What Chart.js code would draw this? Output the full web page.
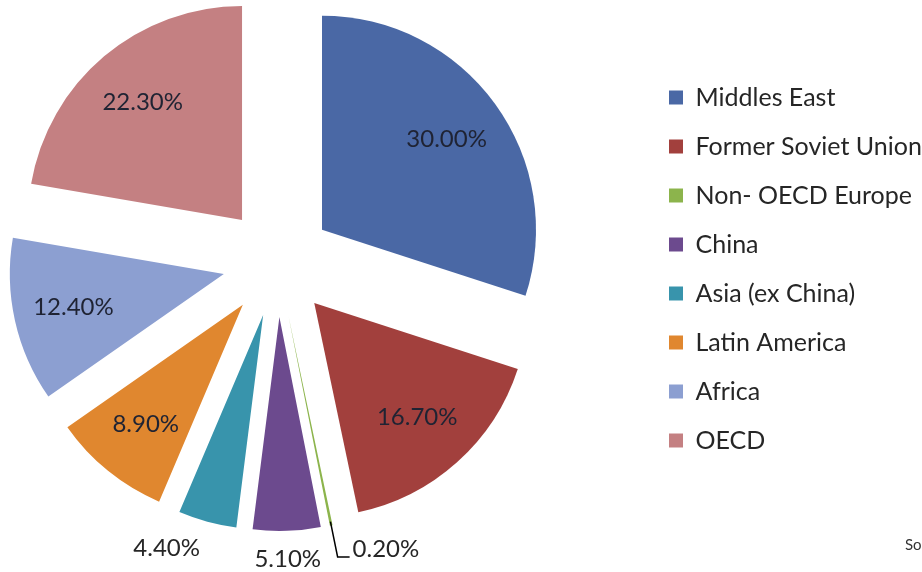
<!DOCTYPE html>
<html>
<head>
<meta charset="utf-8">
<script src="https://cdn.jsdelivr.net/npm/chart.js@4"></script>
<style>
  html, body { margin: 0; padding: 0; background: #fff; }
  #wrap { width: 922px; height: 572px; }
</style>
</head>
<body>
<div id="wrap"><canvas id="myChart" width="922" height="572"></canvas></div>
<script>
const regions = [
  "Middles East",
  "Former Soviet Union",
  "Non- OECD Europe",
  "China",
  "Asia (ex China)",
  "Latin America",
  "Africa",
  "OECD",
];
const shares = [30.0, 16.7, 0.2, 5.1, 4.4, 8.9, 12.4, 22.3];
const colours = [
  "#4a68a5", // Middles East
  "#a2403d", // Former Soviet Union
  "#8cb44c", // Non- OECD Europe
  "#6c4a8e", // China
  "#3894ac", // Asia (ex China)
  "#e0872f", // Latin America
  "#8c9fd1", // Africa
  "#c48082", // OECD
];

const EXPLODE = 55; // distance each slice is pulled out

// pie sits left of the middle of the free space, legend a bit lower
const layoutPlugin = {
  id: "layoutTweak",
  beforeInit(chart) {
    const fit = chart.legend.fit;
    chart.legend.fit = function () {
      fit.bind(chart.legend)();
      this.width = 277;
    };
  },
  afterLayout(chart) {
    chart.chartArea.left -= 90;
    chart.legend.top += 7;
    chart.legend.bottom += 7;
  },
};

// draw every arc pulled out along its mid angle
const explodePlugin = {
  id: "explode",
  beforeDatasetDraw(chart, args) {
    const ctx = chart.ctx;
    args.meta.data.forEach((arc) => {
      const mid = (arc.startAngle + arc.endAngle) / 2;
      ctx.save();
      ctx.translate(Math.cos(mid) * EXPLODE, Math.sin(mid) * EXPLODE);
      arc.draw(ctx);
      ctx.restore();
    });
    return false;
  },
};

// percentage labels: inside for big slices, outside for small, leader for tiny
const labelPlugin = {
  id: "pctLabels",
  afterDatasetsDraw(chart) {
    const ctx = chart.ctx;
    const meta = chart.getDatasetMeta(0);
    ctx.save();
    ctx.font = "24px Lato";
    meta.data.forEach((arc, i) => {
      const v = shares[i];
      const text = v.toFixed(2) + "%";
      const mid = (arc.startAngle + arc.endAngle) / 2;
      const cx = Math.cos(mid);
      const cy = Math.sin(mid);
      const ax = arc.x + cx * EXPLODE;
      const ay = arc.y + cy * EXPLODE;
      const r = arc.outerRadius;
      ctx.textBaseline = "middle";
      if (v >= 6) {
        ctx.fillStyle = "#1f2333";
        ctx.textAlign = "center";
        ctx.fillText(text, ax + cx * r * 0.72, ay + cy * r * 0.72);
      } else if (v >= 1) {
        ctx.fillStyle = "#262626";
        ctx.textAlign = Math.abs(cx) < 0.1 ? "center" : cx < 0 ? "right" : "left";
        ctx.fillText(text, ax + cx * (r + 28), ay + cy * (r + 28));
      } else {
        // leader line from the slice tip
        const x1 = ax + cx * (r - 4), y1 = ay + cy * (r - 4);
        const x2 = ax + cx * (r + 32), y2 = ay + cy * (r + 32);
        ctx.strokeStyle = "#000";
        ctx.lineWidth = 1.5;
        ctx.beginPath();
        ctx.moveTo(x1, y1);
        ctx.lineTo(x2, y2);
        ctx.lineTo(x2 + 12, y2);
        ctx.stroke();
        ctx.fillStyle = "#262626";
        ctx.textAlign = "left";
        ctx.fillText(text, x2 + 15, y2 - 8);
      }
    });
    // source note, cut off at the right edge like the original
    ctx.font = "15px Lato";
    ctx.fillStyle = "#333";
    ctx.textAlign = "left";
    ctx.fillText("Source", 905, 545);
    ctx.restore();
  },
};

const cfg = {
  type: "pie",
  data: {
    labels: regions,
    datasets: [
      {
        data: shares,
        backgroundColor: colours,
        borderWidth: 0,
        radius: 214,
      },
    ],
  },
  options: {
    responsive: false,
    animation: false,
    events: [],
    layout: {
      padding: { left: 0, right: 0, top: 0, bottom: 48 },
    },
    plugins: {
      tooltip: { enabled: false },
      legend: {
        display: true,
        position: "right",
        labels: {
          boxWidth: 14,
          boxHeight: 14,
          padding: 24,
          color: "#262626",
          font: { family: "Lato", size: 25 },
        },
      },
    },
  },
  plugins: [layoutPlugin, explodePlugin, labelPlugin],
};

new Chart(document.getElementById("myChart"), cfg);
</script>
</body>
</html>
